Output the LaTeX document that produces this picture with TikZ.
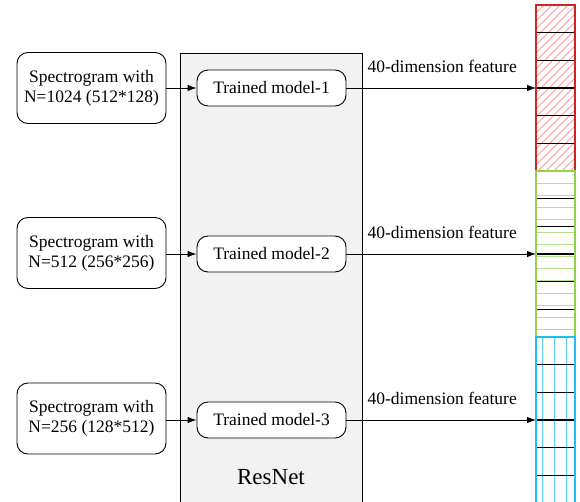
\documentclass[tikz,border=0pt]{standalone}
\usepackage{fontspec}
\setmainfont{Liberation Serif}
\usetikzlibrary{arrows.meta}
\definecolor{boxgray}{HTML}{F2F2F2}
\definecolor{colred}{HTML}{D02424}
\definecolor{hatchred}{HTML}{EEA0A0}
\definecolor{colgreen}{HTML}{92D050}
\definecolor{colgreenl}{HTML}{B5E08A}
\definecolor{colblue}{HTML}{1EBEF5}
\definecolor{colbluel}{HTML}{5CCFF7}
\begin{document}
\begin{tikzpicture}[x=1pt,y=-1pt,
  >={Latex[length=9pt,width=6.5pt]},
  txt/.style={font=\fontsize{17.5}{20}\selectfont},
  specbox/.style={txt, draw, rounded corners=11pt, minimum width=149pt, minimum height=71pt, align=center, line width=0.9pt, inner sep=2pt},
  modelbox/.style={txt, draw, fill=white, rounded corners=11pt, minimum width=149pt, minimum height=36pt, line width=0.9pt, inner sep=2pt},
  conn/.style={->, line width=0.9pt},
  featlabel/.style={txt, above=12pt, inner sep=3pt},
  divider/.style={line width=1.3pt, black},
  hatch/.style={hatchred, line width=0.8pt}]
\useasboundingbox (0,0) rectangle (580,501);

% ResNet container
\draw[fill=boxgray, line width=0.9pt] (180,53) rectangle (362,520);
\node[font=\fontsize{23}{26}\selectfont] (resnet) at (271,477) {ResNet};

% feature column
\begin{scope}
  \clip (536,5) rectangle (575,171);
  \foreach \x in {362,370,...,584} \draw[hatch] (\x,171) -- ++(166,-166);
\end{scope}
\foreach \y in {183.2,195.4,...,336} \draw[colgreenl, line width=0.8pt] (536,\y) -- (575,\y);
\foreach \x in {542,554,566} \draw[colbluel, line width=0.8pt] (\x,337) -- (\x,510);
\foreach \k in {1,2,3,4,5,7,8,9,10,11,13,14,15,16,17}
  \draw[divider] (536,5+\k*27.67) -- (575,5+\k*27.67);
\draw[colred, line width=1.5pt] (536,5) rectangle (575,171);
\draw[colgreen, line width=1.5pt] (536,171) rectangle (575,337);
\draw[colblue, line width=1.5pt] (536,337) rectangle (575,510);

\coordinate (f1) at (536,88);
\coordinate (f2) at (536,254);
\coordinate (f3) at (536,420);

% boxes
\node[specbox] (s1) at (91.5,88) {Spectrogram with\\N=1024 (512*128)};
\node[specbox] (s2) at (91.5,253) {Spectrogram with\\N=512 (256*256)};
\node[specbox] (s3) at (91.5,418.5) {Spectrogram with\\N=256 (128*512)};

\node[modelbox] (m1) at (271.5,88) {Trained model-1};
\node[modelbox] (m2) at (271.5,254) {Trained model-2};
\node[modelbox] (m3) at (271.5,420) {Trained model-3};

% connectors
\draw[conn] (s1.east |- m1) -- (m1.west);
\draw[conn] (s2.east |- m2) -- (m2.west);
\draw[conn] (s3.east |- m3) -- (m3.west);
\draw[conn] (m1.east) -- node[featlabel, xshift=1pt] (l1) {40-dimension feature} (f1);
\draw[conn] (m2.east) -- node[featlabel, xshift=1pt] (l2) {40-dimension feature} (f2);
\draw[conn] (m3.east) -- node[featlabel, xshift=1pt] (l3) {40-dimension feature} (f3);
\end{tikzpicture}
\end{document}
